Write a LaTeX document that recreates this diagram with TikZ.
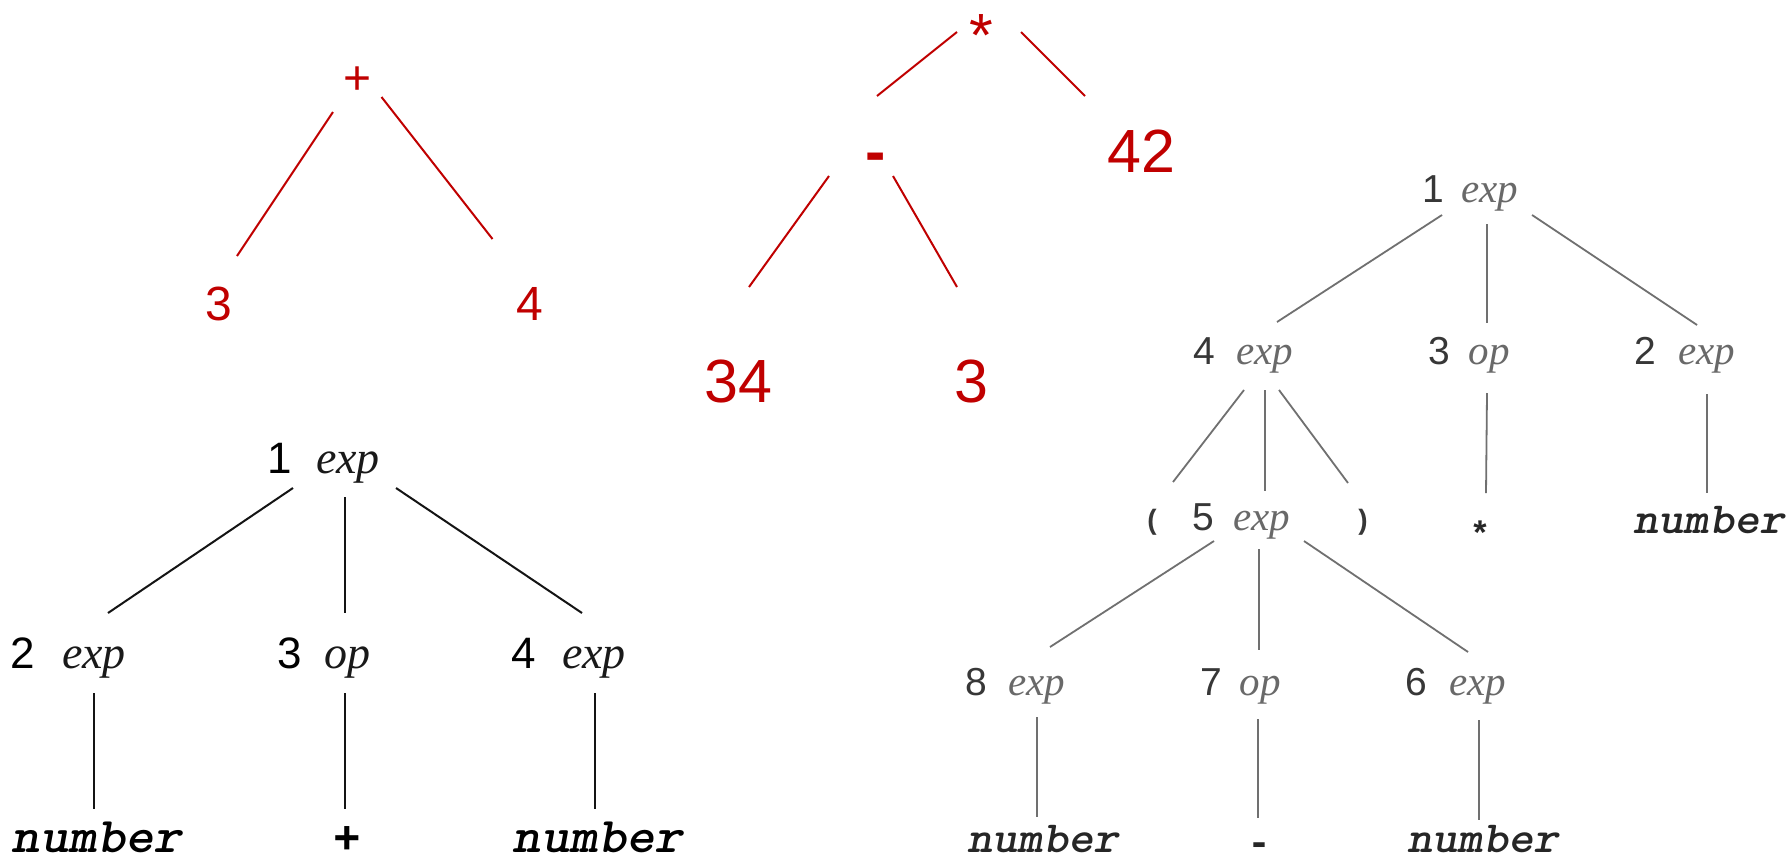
\documentclass[tikz,border=0pt]{standalone}
\usepackage{fontspec}
\setmainfont{Liberation Sans}
\newfontfamily\tmsfont{Liberation Serif}
\newfontfamily\lmonob{Liberation Mono}
\newfontfamily\crfont{lmmonolt10-boldoblique.otf}[FakeStretch=1.08]
\definecolor{treered}{RGB}{192,0,0}
\definecolor{gline}{RGB}{112,112,112}
\definecolor{gdig}{RGB}{55,55,55}
\definecolor{gword}{RGB}{105,105,105}
\tikzset{
  lbl/.style={inner sep=0pt, anchor=base},
  redA/.style={lbl, text=treered, font={\fontsize{48}{48}\selectfont}},
  redB/.style={lbl, text=treered, font={\fontsize{61}{61}\selectfont}},
  rline/.style={draw=treered, line width=2pt},
  ldig/.style={lbl, text=black, font={\fontsize{44}{44}\selectfont}},
  lword/.style={lbl, text=black!90, font={\fontsize{46}{46}\selectfont\tmsfont\itshape}},
  lcode/.style={lbl, text=black, font={\fontsize{50}{50}\selectfont\crfont}},
  lsym/.style={lbl, text=black, font={\fontsize{46}{46}\selectfont\lmonob\bfseries}},
  bline/.style={draw=black!92, line width=2pt},
  gdigs/.style={lbl, text=gdig, font={\fontsize{39}{39}\selectfont}},
  gwords/.style={lbl, text=gword, font={\fontsize{41}{41}\selectfont\tmsfont\itshape}},
  gcode/.style={lbl, text=black!85, font={\fontsize{44.5}{44.5}\selectfont\crfont}},
  gsym/.style={lbl, text=black!85, font={\fontsize{40}{40}\selectfont\lmonob\bfseries}},
  gparen/.style={inner sep=0pt, anchor=center, text=gdig, font={\fontsize{28}{28}\selectfont\bfseries}},
  gline/.style={draw=gline, line width=1.8pt},
}
\begin{document}
\begin{tikzpicture}[x=1pt,y=-1pt]
\useasboundingbox (0,0) rectangle (1790,860);
\fill[white] (0,0) rectangle (1790,860);

% ---------- red tree 1 ----------
\node[redA] (plus) at (358,94) {+};
\node[redA] (rthree) at (219,320) {3};
\node[redA] (rfour) at (530,320) {4};
\draw[rline] ([shift={(-25,18)}]plus.base) -- ([shift={(18,-64)}]rthree.base);
\draw[rline] ([shift={(23.5,3)}]plus.base) -- ([shift={(-37.5,-81)}]rfour.base);

% ---------- red tree 2 ----------
\node[redB] (rstar) at (981,56) {*};
\node[redB, font={\fontsize{61}{61}\selectfont\bfseries}] (rminus) at (876,172) {-};
\node[redB] (r42) at (1141,172) {42};
\node[redB] (r34) at (738,402) {34};
\node[redB] (rthreeb) at (971,402) {3};
\draw[rline] ([shift={(-24,-24)}]rstar.base) -- ([shift={(1,-76)}]rminus.base);
\draw[rline] ([shift={(40,-24)}]rstar.base) -- ([shift={(-56,-76)}]r42.base);
\draw[rline] ([shift={(-47,4)}]rminus.base) -- ([shift={(11,-115)}]r34.base);
\draw[rline] ([shift={(17,4)}]rminus.base) -- ([shift={(-14,-115)}]rthreeb.base);

% ---------- black tree (left) ----------
\node[ldig] (L1d) at (280,473) {1};
\node[lword] (L1e) at (348,473) {exp};
\node[ldig] (L2d) at (23,668) {2};
\node[lword] (L2e) at (94,668) {exp};
\node[ldig] (L3d) at (290,668) {3};
\node[lword] (L3o) at (347,668) {op};
\node[ldig] (L4d) at (524,668) {4};
\node[lword] (L4e) at (594,668) {exp};
\node[lcode] (Ln1) at (97,852) {number};
\node[lsym] (Lplus) at (347,853) {+};
\node[lcode] (Ln2) at (598,852) {number};
\draw[bline] ([shift={(-55,15)}]L1e.base) -- ([shift={(14,-55)}]L2e.base);
\draw[bline] ([shift={(-3,24)}]L1e.base) -- ([shift={(-2,-55)}]L3o.base);
\draw[bline] ([shift={(48,15)}]L1e.base) -- ([shift={(-12,-55)}]L4e.base);
\draw[bline] ([shift={(0,25)}]L2e.base) -- ([shift={(-3,-43)}]Ln1.base);
\draw[bline] ([shift={(-2,25)}]L3o.base) -- ([shift={(-2,-44)}]Lplus.base);
\draw[bline] ([shift={(1,25)}]L4e.base) -- ([shift={(-3,-43)}]Ln2.base);

% ---------- grey tree (right) ----------
\node[gdigs] (R1d) at (1433,202) {1};
\node[gwords] (R1e) at (1490,202) {exp};
\node[gdigs] (R4d) at (1204,364) {4};
\node[gwords] (R4e) at (1265,364) {exp};
\node[gdigs] (R3d) at (1439,364) {3};
\node[gwords] (R3o) at (1489,364) {op};
\node[gdigs] (R2d) at (1645,364) {2};
\node[gwords] (R2e) at (1707,364) {exp};
\node[gparen] (Rlp) at (1152,522) {(};
\node[gdigs] (R5d) at (1203,530) {5};
\node[gwords] (R5e) at (1262,530) {exp};
\node[gparen] (Rrp) at (1363,522) {)};
\node[lbl, text=black!85, font={\fontsize{34}{34}\selectfont\lmonob\bfseries}] (Rstar) at (1480,545) {*};
\node[gcode] (Rnum1) at (1709,533) {number};
\node[gdigs] (R8d) at (976,695) {8};
\node[gwords] (R8e) at (1037,695) {exp};
\node[gdigs] (R7d) at (1211,695) {7};
\node[gwords] (R7o) at (1260,695) {op};
\node[gdigs] (R6d) at (1416,695) {6};
\node[gwords] (R6e) at (1478,695) {exp};
\node[gcode] (Rn2) at (1043,852) {number};
\node[gsym] (Rminus) at (1259,855) {-};
\node[gcode] (Rn3) at (1483,852) {number};

\draw[gline] ([shift={(-48,13)}]R1e.base) -- ([shift={(12,-42)}]R4e.base);
\draw[gline] ([shift={(-3,22)}]R1e.base) -- ([shift={(-2,-41)}]R3o.base);
\draw[gline] ([shift={(42,13)}]R1e.base) -- ([shift={(-10,-39)}]R2e.base);
\draw[gline] ([shift={(-21,26)}]R4e.base) -- ([shift={(21,-40)}]Rlp.center);
\draw[gline] ([shift={(0,26)}]R4e.base) -- ([shift={(3,-39)}]R5e.base);
\draw[gline] ([shift={(14,26)}]R4e.base) -- ([shift={(-15,-39)}]Rrp.center);
\draw[gline] ([shift={(-2,29)}]R3o.base) -- ([shift={(6,-52)}]Rstar.base);
\draw[gline] ([shift={(0,30)}]R2e.base) -- ([shift={(-2,-40)}]Rnum1.base);
\draw[gline] ([shift={(-48,11)}]R5e.base) -- ([shift={(13,-48)}]R8e.base);
\draw[gline] ([shift={(-3,19)}]R5e.base) -- ([shift={(-1,-45)}]R7o.base);
\draw[gline] ([shift={(42,11)}]R5e.base) -- ([shift={(-10,-43)}]R6e.base);
\draw[gline] ([shift={(0,22)}]R8e.base) -- ([shift={(-6,-35)}]Rn2.base);
\draw[gline] ([shift={(-2,24)}]R7o.base) -- ([shift={(-1,-37)}]Rminus.base);
\draw[gline] ([shift={(1,25)}]R6e.base) -- ([shift={(-4,-32)}]Rn3.base);
\end{tikzpicture}
\end{document}
